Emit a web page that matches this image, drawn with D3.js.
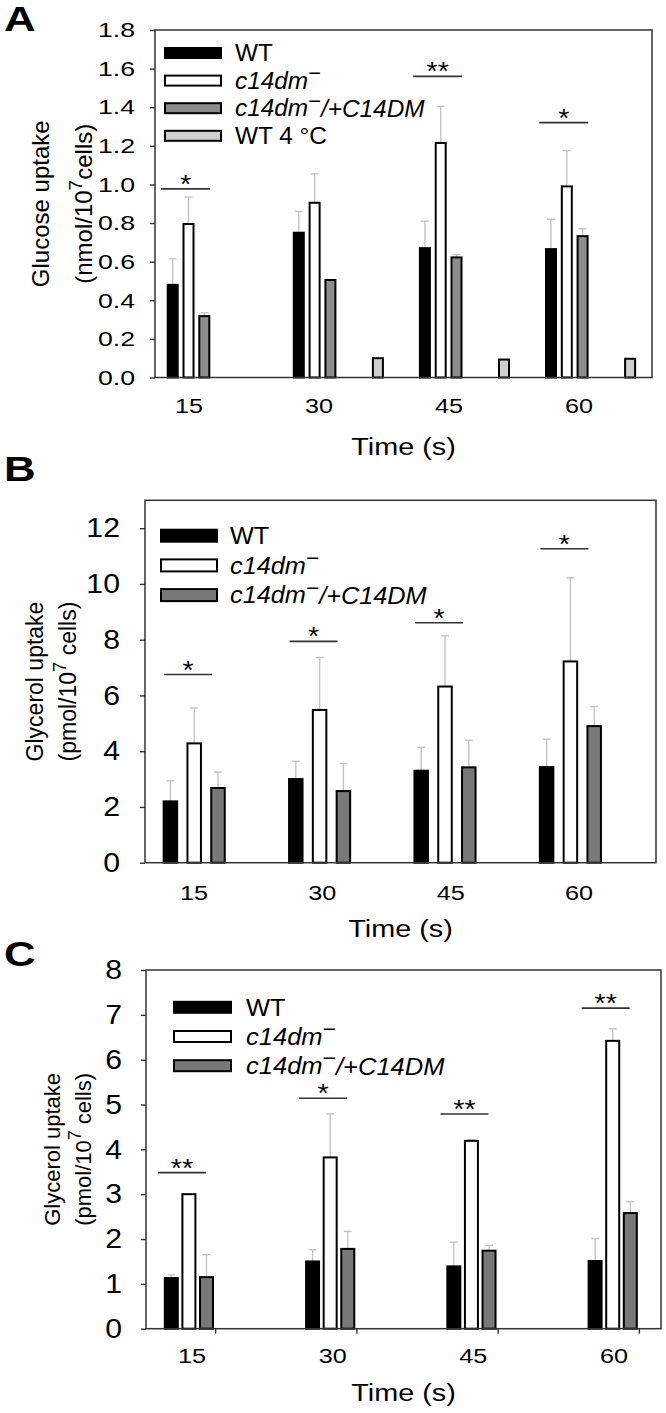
<!DOCTYPE html>
<html><head><meta charset="utf-8">
<script src="https://cdn.jsdelivr.net/npm/d3@7"></script>
<style>
body{margin:0;background:#fff}
svg{display:block}
text{font-family:"Liberation Sans",Arial,Helvetica,sans-serif;fill:#000}
</style>
</head><body>
<svg id="chart" width="666" height="1413"></svg>
<script>
// ---------------- DATA ----------------
const times = [15, 30, 45, 60];
const legendA = ["WT", "c14dm", "c14dm/+C14DM", "WT 4 °C"];
const legendBC = ["WT", "c14dm", "c14dm/+C14DM"];

// Panel A: glucose uptake (nmol/10^7 cells)
const glucoseWT     = [0.48, 0.75, 0.67, 0.665];
const glucoseWTsd   = [0.135, 0.11, 0.14, 0.155];
const glucoseKO     = [0.795, 0.905, 1.215, 0.99];
const glucoseKOsd   = [0.14, 0.15, 0.19, 0.185];
const glucoseComp   = [0.318, 0.505, 0.622, 0.732];
const glucoseCompSd = [0.017, 0, 0.015, 0.038];
const glucoseWT4C   = [null, 0.10, 0.093, 0.097];
const glucoseWT4Csd = [null, 0, 0, 0];
const glucoseTicks  = [0, 0.2, 0.4, 0.6, 0.8, 1.0, 1.2, 1.4, 1.6, 1.8];
const glucoseSigT   = [15, 45, 60];
const glucoseSigLvl = [0.977, 1.56, 1.32];
const glucoseSigMk  = ["*", "**", "*"];

// Panel B: glycerol uptake (pmol/10^7 cells)
const glyBWT     = [2.2, 3.0, 3.3, 3.43];
const glyBWTsd   = [0.74, 0.64, 0.84, 1.0];
const glyBKO     = [4.28, 5.48, 6.32, 7.22];
const glyBKOsd   = [1.27, 1.88, 1.82, 3.0];
const glyBComp   = [2.68, 2.57, 3.42, 4.9];
const glyBCompSd = [0.57, 0.99, 0.97, 0.7];
const glyBTicks  = [0, 2, 4, 6, 8, 10, 12];
const glyBSigT   = [15, 30, 45, 60];
const glyBSigLvl = [6.75, 7.94, 8.61, 11.26];
const glyBSigMk  = ["*", "*", "*", "*"];

// Panel C: glycerol uptake (pmol/10^7 cells)
const glyCWT     = [1.13, 1.5, 1.39, 1.51];
const glyCWTsd   = [0.07, 0.26, 0.54, 0.5];
const glyCKO     = [3.0, 3.82, 4.19, 6.42];
const glyCKOsd   = [0.01, 0.97, 0.02, 0.27];
const glyCComp   = [1.15, 1.78, 1.74, 2.58];
const glyCCompSd = [0.5, 0.39, 0.12, 0.25];
const glyCTicks  = [0, 1, 2, 3, 4, 5, 6, 7, 8];
const glyCSigT   = [15, 30, 45, 60];
const glyCSigLvl = [3.48, 5.14, 4.79, 7.15];
const glyCSigMk  = ["**", "*", "**", "**"];

// ---------------- DRAWING ----------------
const svg = d3.select("#chart");
const AXIS = "#333";
const ERR = "#c4c4c4";

// horizontal text with a horizontal stretch around its anchor point
function stext(g, x, y, sx, size) {
  return g.append("text").attr("transform", `translate(${x},${y}) scale(${sx},1)`).attr("font-size", size);
}

function legendText(sel, name) {
  if (name.startsWith("c14dm")) {
    sel.append("tspan").attr("font-style", "italic").text("c14dm");
    sel.append("tspan").attr("dy", "-0.42em").attr("font-size", "0.9em").text("\u2212");
    if (name.length > 5) {
      sel.append("tspan").attr("dy", "0.42em").attr("font-style", "italic").text("/+C14DM");
    }
  } else sel.text(name);
}

function drawPanel(p) {
  const g = svg.append("g");
  const y = d3.scaleLinear().domain(p.domain).range([p.bottom, p.top]);
  const xc = d3.scaleLinear().domain([15, 60]).range(p.centers);
  const xl = d3.scaleLinear().domain([15, 60]).range(p.labels);

  // panel letter
  stext(g, p.letterX, p.letterY, 1.25, 35).attr("font-weight", "bold").text(p.letter);

  // bars + error bars
  p.series.forEach((s) => {
    const dat = times.map((t, i) => ({t, v: s.values[i], sd: s.sd[i]})).filter(d => d.v != null);
    g.selectAll(null).data(dat).enter().append("line")
      .attr("x1", d => xc(d.t) + s.off).attr("x2", d => xc(d.t) + s.off)
      .attr("y1", d => y(d.v)).attr("y2", d => y(d.v + d.sd))
      .attr("stroke", ERR).attr("stroke-width", 1.4);
    g.selectAll(null).data(dat.filter(d => d.sd > 0)).enter().append("line")
      .attr("x1", d => xc(d.t) + s.off - 4).attr("x2", d => xc(d.t) + s.off + 4)
      .attr("y1", d => y(d.v + d.sd)).attr("y2", d => y(d.v + d.sd))
      .attr("stroke", ERR).attr("stroke-width", 1.4);
    g.selectAll(null).data(dat).enter().append("rect")
      .attr("x", d => xc(d.t) + s.off - p.barW / 2 + 1)
      .attr("width", p.barW - 2)
      .attr("y", d => y(d.v))
      .attr("height", d => y(0) - y(d.v))
      .attr("fill", s.fill).attr("stroke", "#000").attr("stroke-width", 2);
  });

  // frame
  const yTopBox = y(p.domain[1]);
  g.append("rect").attr("x", p.left).attr("y", yTopBox)
    .attr("width", p.right - p.left).attr("height", y(0) - yTopBox)
    .attr("fill", "none").attr("stroke", AXIS).attr("stroke-width", 1.5);

  // y axis
  const ya = g.append("g").attr("transform", `translate(${p.left},0)`)
    .call(d3.axisLeft(y).tickValues(p.ticks).tickFormat(p.fmt).tickSize(5).tickPadding(p.tickPad));
  ya.select(".domain").remove();
  ya.selectAll(".tick line").attr("stroke", AXIS).attr("stroke-width", 1.4);
  ya.selectAll(".tick text")
    .attr("transform", `translate(${-(5 + p.tickPad)},0) scale(${p.ySx},1)`)
    .attr("x", 0).attr("font-size", p.yFont).attr("font-family", null).attr("fill", "#000");

  // x ticks (panel C only)
  if (p.xTickOff != null) {
    g.selectAll(null).data(times).enter().append("line")
      .attr("x1", t => xc(t) + p.xTickOff).attr("x2", t => xc(t) + p.xTickOff)
      .attr("y1", y(0)).attr("y2", y(0) + 5)
      .attr("stroke", AXIS).attr("stroke-width", 1.4);
  }
  // x labels
  times.forEach(t => {
    stext(g, xl(t), p.xLabelY, 1.2, p.xFont).attr("text-anchor", "middle").text(t);
  });
  stext(g, (p.left + p.right) / 2, p.xTitleY, 1.2, p.xTitleFont)
    .attr("text-anchor", "middle").text("Time (s)");

  // y title (two lines)
  const cy = (y(0) + yTopBox) / 2;
  g.append("text").attr("transform", `translate(${p.t1x + 0.35 * p.tFont},${cy}) rotate(-90)`)
    .attr("text-anchor", "middle").attr("font-size", p.tFont).text(p.title1);
  const t2 = g.append("text").attr("transform", `translate(${p.t2x + 0.35 * p.tFont},${cy}) rotate(-90)`)
    .attr("text-anchor", "middle").attr("font-size", p.tFont);
  t2.append("tspan").text(p.title2a);
  t2.append("tspan").attr("dy", "-0.55em").attr("font-size", "0.8em").text("7");
  t2.append("tspan").attr("dy", "0.44em").text(p.title2b);

  // significance
  p.sig.t.forEach((t, i) => {
    const cx = xc(t) + p.sigDx;
    const ly = y(p.sig.lvl[i]);
    g.append("line").attr("x1", cx - p.sigW / 2).attr("x2", cx + p.sigW / 2)
      .attr("y1", ly).attr("y2", ly).attr("stroke", AXIS).attr("stroke-width", 1.6);
    stext(g, cx, ly + 4, 1.15, 25).attr("text-anchor", "middle").text(p.sig.mk[i]);
  });

  // legend
  p.legend.names.forEach((n, i) => {
    const ry = p.legend.y0 + i * p.legend.dy;
    g.append("rect").attr("x", p.legend.x + 1).attr("y", ry - p.legend.h / 2)
      .attr("width", p.legend.w - 2).attr("height", p.legend.h)
      .attr("fill", p.series[i].fill).attr("stroke", "#000").attr("stroke-width", 2);
    const tx = stext(g, p.legend.tx, ry + 0.36 * p.legend.font, p.legend.sx, p.legend.font);
    legendText(tx, n);
  });
}

drawPanel({
  letter: "A", letterX: 4, letterY: 31,
  domain: [0, 1.8], top: 30, bottom: 377.5, left: 155, right: 652,
  ticks: glucoseTicks, fmt: d3.format(".1f"), tickPad: 15, yFont: 21, ySx: 1.27,
  centers: [188.5, 566.8], labels: [189, 579], barW: 12,
  xLabelY: 413, xFont: 21, xTitleY: 455, xTitleFont: 24,
  t1x: 41, t2x: 84, tFont: 24, title1: "Glucose uptake", title2a: "(nmol/10", title2b: "cells)",
  series: [
    {values: glucoseWT, sd: glucoseWTsd, fill: "#000", off: -15.8},
    {values: glucoseKO, sd: glucoseKOsd, fill: "#fff", off: 0},
    {values: glucoseComp, sd: glucoseCompSd, fill: "#8c8c8c", off: 15.8},
    {values: glucoseWT4C, sd: glucoseWT4Csd, fill: "#cfcfcf", off: 63.3}
  ],
  sig: {t: glucoseSigT, lvl: glucoseSigLvl, mk: glucoseSigMk}, sigDx: -3, sigW: 49,
  legend: {names: legendA, x: 164, w: 58, h: 10, y0: 53, dy: 27.6, tx: 235, font: 23, sx: 1.06}
});

drawPanel({
  letter: "B", letterX: 4, letterY: 481,
  domain: [0, 13], top: 500.3, bottom: 862.7, left: 145, right: 656,
  ticks: glyBTicks, fmt: d3.format("d"), tickPad: 20, yFont: 27, ySx: 1.12,
  centers: [194.2, 570.4], labels: [194, 579], barW: 15.5,
  xLabelY: 900, xFont: 21, xTitleY: 937, xTitleFont: 24,
  t1x: 35, t2x: 68, tFont: 23, title1: "Glycerol uptake", title2a: "(pmol/10", title2b: " cells)",
  series: [
    {values: glyBWT, sd: glyBWTsd, fill: "#000", off: -23.8},
    {values: glyBKO, sd: glyBKOsd, fill: "#fff", off: 0},
    {values: glyBComp, sd: glyBCompSd, fill: "#787878", off: 23.8}
  ],
  sig: {t: glyBSigT, lvl: glyBSigLvl, mk: glyBSigMk}, sigDx: -6, sigW: 48,
  legend: {names: legendBC, x: 160, w: 58, h: 12, y0: 535.7, dy: 29.7, tx: 230, font: 23, sx: 1.1}
});

drawPanel({
  letter: "C", letterX: 4, letterY: 966,
  domain: [0, 8], top: 970, bottom: 1328.7, left: 146, right: 661,
  ticks: glyCTicks, fmt: d3.format("d"), tickPad: 19, yFont: 27, ySx: 1.12,
  centers: [188.9, 612.7], labels: [192, 614], barW: 15, xTickOff: 26.7,
  xLabelY: 1363, xFont: 21, xTitleY: 1401, xTitleFont: 24,
  t1x: 52, t2x: 83, tFont: 22, title1: "Glycerol uptake", title2a: "(pmol/10", title2b: " cells)",
  series: [
    {values: glyCWT, sd: glyCWTsd, fill: "#000", off: -17.6},
    {values: glyCKO, sd: glyCKOsd, fill: "#fff", off: 0},
    {values: glyCComp, sd: glyCCompSd, fill: "#787878", off: 17.6}
  ],
  sig: {t: glyCSigT, lvl: glyCSigLvl, mk: glyCSigMk}, sigDx: -7, sigW: 48,
  legend: {names: legendBC, x: 173, w: 59, h: 11, y0: 1007.3, dy: 29.2, tx: 246, font: 23, sx: 1.11}
});
</script>
</body></html>
